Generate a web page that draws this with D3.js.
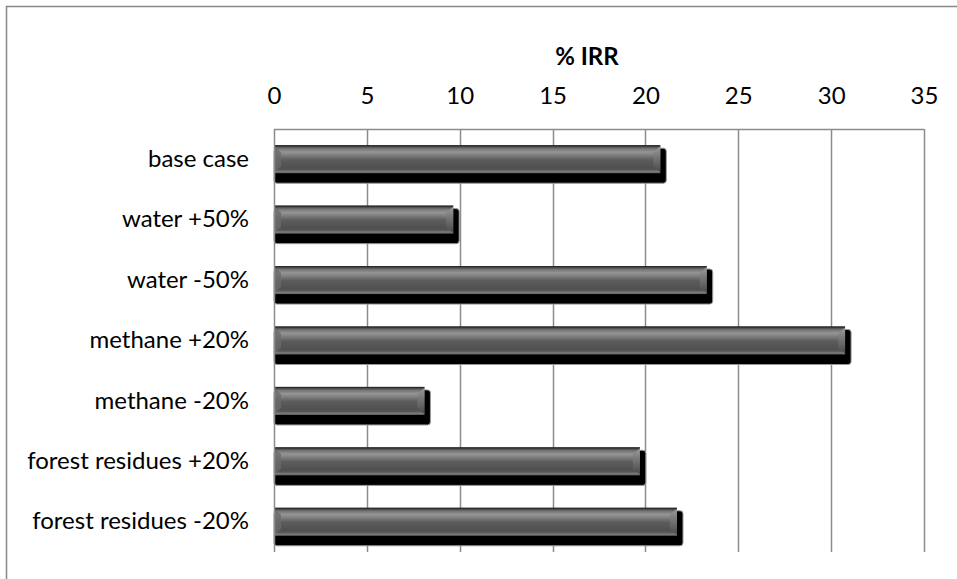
<!DOCTYPE html>
<html>
<head>
<meta charset="utf-8">
<script src="https://cdn.jsdelivr.net/npm/d3@7"></script>
<style>
  html, body { margin: 0; padding: 0; background: #ffffff; }
  svg { display: block; }
  text { font-family: Lato, "Open Sans", sans-serif; fill: #000; }
</style>
</head>
<body>
<svg id="chart" width="957" height="579"></svg>
<script>
// Sensitivity of the internal rate of return to key inputs
const categories = [
  "base case",
  "water +50%",
  "water -50%",
  "methane +20%",
  "methane -20%",
  "forest residues +20%",
  "forest residues -20%"
];
const irrValues = [20.8, 9.65, 23.3, 30.75, 8.1, 19.7, 21.7];
const tickValues = [0, 5, 10, 15, 20, 25, 30, 35];
const axisTitle = "% IRR";

const svg = d3.select("#chart");
const W = 957, H = 579;
const plot = { left: 274, right: 924, top: 129, bottom: 552 };

svg.append("rect").attr("width", W).attr("height", H).attr("fill", "#fff");

// Chart-area frame (continues past the right and bottom edges)
svg.append("rect")
  .attr("x", 6.5).attr("y", 6.5)
  .attr("width", W + 20).attr("height", H + 20)
  .attr("fill", "none").attr("stroke", "#878787").attr("stroke-width", 1.5);

const x = d3.scaleLinear().domain([0, 35]).range([plot.left, plot.right]);
const y = d3.scaleBand().domain(categories)
  .range([plot.top, plot.bottom])
  .paddingInner(0.536).paddingOuter(0.268);

const defs = svg.append("defs");
const face = defs.append("linearGradient")
  .attr("id", "barFace").attr("x1", 0).attr("y1", 0).attr("x2", 0).attr("y2", 1);
[
  [0.00, "#2e2e2e"], [0.05, "#474747"], [0.12, "#747474"], [0.24, "#959595"],
  [0.36, "#7e7e7e"], [0.52, "#5c5c5c"], [0.80, "#505050"], [0.88, "#575757"],
  [0.94, "#7c7c7c"], [1.00, "#5e5e5e"]
].forEach(([o, c]) => face.append("stop").attr("offset", o).attr("stop-color", c));

const bevelR = defs.append("linearGradient")
  .attr("id", "bevelRight").attr("x1", 0).attr("y1", 0).attr("x2", 0).attr("y2", 1);
[[0, "#9a9a9a"], [0.5, "#707070"], [1, "#4a4a4a"]]
  .forEach(([o, c]) => bevelR.append("stop").attr("offset", o).attr("stop-color", c));

// Vertical gridlines
const grid = svg.append("g");
grid.selectAll("line").data(tickValues.filter(t => t > 0)).join("line")
  .attr("x1", d => Math.round(x(d)) + 0.5).attr("x2", d => Math.round(x(d)) + 0.5)
  .attr("y1", plot.top).attr("y2", plot.bottom)
  .attr("stroke", "#8c8c8c").attr("stroke-width", 1.5);

// Top value axis: labels only, with the axis line drawn across the plot
const xAxis = d3.axisTop(x).tickValues(tickValues).tickSize(0).tickPadding(0)
  .tickFormat(d3.format("d"));
const gx = svg.append("g").attr("transform", `translate(0,${plot.top})`).call(xAxis);
gx.select(".domain").remove();
gx.selectAll("text")
  .attr("y", 96 - plot.top).attr("dy", "0.35em")
  .style("font-size", "24px").style("font-family", "Lato, 'Open Sans', sans-serif")
  .attr("fill", "#000");

svg.append("line")
  .attr("x1", plot.left).attr("x2", plot.right)
  .attr("y1", plot.top + 0.5).attr("y2", plot.top + 0.5)
  .attr("stroke", "#8c8c8c").attr("stroke-width", 1.5);

svg.append("text")
  .attr("x", 587).attr("y", 57).attr("dy", "0.35em")
  .attr("text-anchor", "middle")
  .style("font-size", "24px").style("font-weight", "bold")
  .text(axisTitle);

// Category labels
const yAxis = d3.axisLeft(y).tickSize(0).tickPadding(25);
const gy = svg.append("g").attr("transform", `translate(${plot.left},0)`).call(yAxis);
gy.select(".domain").remove();
gy.selectAll("text")
  .style("font-size", "24px").style("font-family", "Lato, 'Open Sans', sans-serif")
  .attr("fill", "#000");

// Bars: drop shadow, bevelled face
const data = categories.map((c, i) => ({ cat: c, v: irrValues[i] }));
const bars = svg.append("g").selectAll("g").data(data).join("g");

bars.append("rect")
  .attr("x", plot.left)
  .attr("y", d => y(d.cat) + 3)
  .attr("width", d => x(d.v) - plot.left + 6)
  .attr("height", y.bandwidth() + 7)
  .attr("rx", 3)
  .attr("fill", "#000").attr("stroke", "#9a9a9a").attr("stroke-width", 1);

bars.append("rect")
  .attr("x", plot.left)
  .attr("y", d => y(d.cat))
  .attr("width", d => x(d.v) - plot.left)
  .attr("height", y.bandwidth())
  .attr("fill", "url(#barFace)");

const b = 7;
bars.append("polygon")
  .attr("points", d => {
    const x0 = plot.left, t = y(d.cat), btm = t + y.bandwidth();
    return [[x0, t + 1], [x0 + b, t + b], [x0 + b, btm - b], [x0, btm - 1]].join(" ");
  })
  .attr("fill", "#6a6a6a").attr("opacity", 0.8);

bars.append("polygon")
  .attr("points", d => {
    const x1 = x(d.v), t = y(d.cat), btm = t + y.bandwidth();
    return [[x1, t + 1], [x1 - b, t + b], [x1 - b, btm - b], [x1, btm - 1]].join(" ");
  })
  .attr("fill", "url(#bevelRight)");

bars.append("line")
  .attr("x1", plot.left).attr("x2", d => x(d.v))
  .attr("y1", d => y(d.cat) + 0.5).attr("y2", d => y(d.cat) + 0.5)
  .attr("stroke", "#2a2a2a").attr("stroke-width", 1);

// Category axis line
svg.append("line")
  .attr("x1", plot.left + 0.5).attr("x2", plot.left + 0.5)
  .attr("y1", plot.top).attr("y2", plot.bottom)
  .attr("stroke", "#8c8c8c").attr("stroke-width", 1.5);
</script>
</body>
</html>
